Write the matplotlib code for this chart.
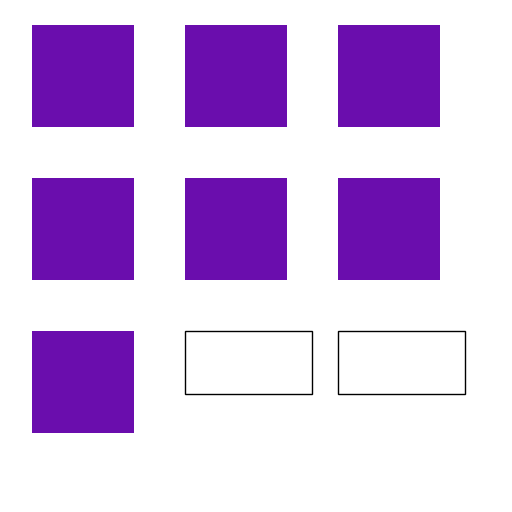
import matplotlib
matplotlib.use("Agg")
import matplotlib.pyplot as plt
from matplotlib.patches import Rectangle

# waffle data: 9 cells, first 7 filled
cells = [1, 1, 1, 1, 1, 1, 1, 0, 0]
ncols = 3

PURPLE = "#6a0dad"
X0, Y0, STEP = 32, 25, 153
SQ = 102            # filled square side (px)
EW, EH = 127, 63    # empty cell box (px)

fig = plt.figure(figsize=(5.12, 5.12), dpi=100)
ax = fig.add_axes([0, 0, 1, 1])
ax.set_xlim(0, 512); ax.set_ylim(512, 0); ax.axis("off")

for i, v in enumerate(cells):
    r, c = divmod(i, ncols)
    x, y = X0 + c*STEP, Y0 + r*STEP
    if v:
        ax.add_patch(Rectangle((x, y), SQ, SQ, facecolor=PURPLE, edgecolor="none"))
    else:
        ax.add_patch(Rectangle((x, y), EW, EH, facecolor="white", edgecolor="black", linewidth=1))

fig.savefig("out.png", dpi=100)
